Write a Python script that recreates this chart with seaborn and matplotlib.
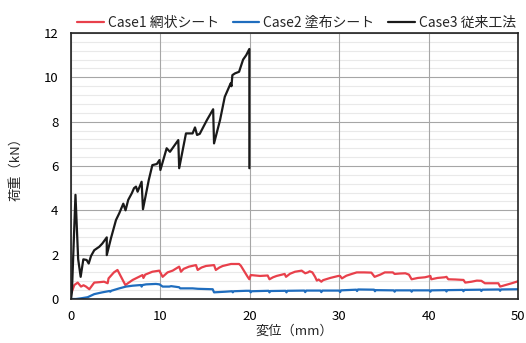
import numpy as np
import pandas as pd
import matplotlib
matplotlib.use("Agg")
import matplotlib.pyplot as plt
from matplotlib.ticker import MultipleLocator
import seaborn as sns

# ---- data ----
case_names = ["Case1 網状シート", "Case2 塗布シート", "Case3 従来工法"]

case1_x = [0, 0.1, 0.37, 0.75, 1.12, 1.4, 1.68, 2.05, 2.6, 3.2, 3.7, 4.1, 4.2, 4.8, 5.2,
           6.08, 6.9, 7.6, 8.0, 8.1, 8.3, 9.1, 9.88, 10.25, 10.8, 11.37, 12.1, 12.3, 12.6,
           13.2, 13.98, 14.17, 14.6, 15.1, 16.0, 16.2, 16.6, 16.97, 17.9, 18.8, 19.0, 19.76,
           19.95, 20.1, 21.14, 22.0, 22.2, 22.6, 23.0, 23.9, 24.05, 24.5, 25.06, 25.8, 26.2,
           26.5, 26.7, 27.0, 27.3, 27.5, 27.7, 28.0, 28.2, 29.0, 29.9, 30.1, 30.3, 30.8, 31.4,
           31.96, 32.8, 33.6, 33.96, 34.6, 35.1, 36.0, 36.2, 36.8, 37.4, 37.8, 38.1, 38.8,
           39.6, 40.2, 40.3, 41.0, 41.8, 42.0, 42.2, 43.0, 43.9, 44.1, 44.8, 45.4, 45.9,
           46.3, 47.8, 48.0, 48.6, 49.3, 50.0]
case1_y = [0.3, 0.33, 0.63, 0.74, 0.56, 0.62, 0.56, 0.44, 0.74, 0.76, 0.78, 0.71, 0.93, 1.2, 1.31,
           0.63, 0.86, 1.0, 1.08, 0.95, 1.1, 1.23, 1.28, 1.0, 1.2, 1.28, 1.46, 1.23, 1.36,
           1.46, 1.53, 1.31, 1.42, 1.49, 1.53, 1.31, 1.42, 1.49, 1.58, 1.58, 1.5, 1.0,
           0.89, 1.08, 1.04, 1.06, 0.89, 0.98, 1.04, 1.13, 1.0, 1.14, 1.23, 1.28, 1.16,
           1.2, 1.25, 1.2, 1.0, 0.83, 0.88, 0.78, 0.85, 0.95, 1.04, 1.04, 0.93, 1.05, 1.13,
           1.2, 1.2, 1.19, 1.0, 1.1, 1.2, 1.2, 1.13, 1.15, 1.16, 1.1, 0.89, 0.95,
           0.98, 1.04, 0.89, 0.95, 0.98, 1.0, 0.89, 0.88, 0.86, 0.74, 0.78, 0.83, 0.82,
           0.71, 0.71, 0.56, 0.63, 0.71, 0.8]

case2_x = [0, 0.56, 1.1, 1.86, 2.6, 3.5, 4.3, 4.4, 4.5, 5.4, 6.15, 6.9, 7.8, 7.9, 8.0, 8.4,
           9.5, 9.9, 10.25, 11.0, 11.2, 12.1, 12.2, 13.6, 14.2, 15.85, 16.0, 17.3, 18.0, 18.1,
           18.2, 19.6, 20.0, 20.1, 20.2, 22.1, 22.2, 22.3, 24.0, 24.1, 24.2, 26.1, 26.2, 26.3,
           27.9, 28.0, 28.1, 30.0, 30.1, 30.2, 31.9, 32.0, 32.1, 33.9, 34.0, 34.1, 36.1, 36.2,
           36.3, 38.0, 38.1, 38.2, 40.1, 40.2, 40.3, 41.9, 42.0, 42.1, 43.8, 43.9, 44.0, 45.8,
           45.9, 46.0, 47.9, 48.0, 48.1, 50.0]
case2_y = [0.0, 0.0, 0.03, 0.08, 0.22, 0.3, 0.36, 0.33, 0.37, 0.48, 0.56, 0.6, 0.63, 0.56, 0.63, 0.66,
           0.68, 0.66, 0.56, 0.56, 0.58, 0.53, 0.48, 0.48, 0.46, 0.44, 0.3, 0.33, 0.35, 0.3,
           0.35, 0.37, 0.37, 0.3, 0.35, 0.37, 0.3, 0.36, 0.37, 0.3, 0.37, 0.38, 0.31, 0.38,
           0.38, 0.31, 0.38, 0.38, 0.31, 0.39, 0.42, 0.36, 0.43, 0.42, 0.35, 0.4, 0.39, 0.33,
           0.39, 0.39, 0.33, 0.39, 0.39, 0.33, 0.39, 0.4, 0.34, 0.4, 0.41, 0.35, 0.41, 0.42,
           0.36, 0.42, 0.43, 0.37, 0.43, 0.44]

case3_x = [0, 0.1, 0.5, 0.8, 1.08, 1.38, 1.75, 1.98, 2.24, 2.6, 3.17, 3.5, 4.0, 4.0, 4.47,
           5.03, 5.4, 5.85, 6.1, 6.4, 6.8, 7.05, 7.27, 7.45, 7.9, 8.05, 8.7, 9.1, 9.6, 9.9,
           10.0, 10.7, 11.07, 12.0, 12.1, 12.86, 13.6, 13.87, 14.1, 14.4, 15.2, 15.9, 16.0,
           16.67, 17.2, 17.86, 17.95, 18.05, 18.35, 18.8, 19.25, 19.6, 19.95, 19.95]
case3_y = [0.0, 0.3, 4.7, 1.8, 1.0, 1.79, 1.76, 1.6, 1.94, 2.2, 2.36, 2.5, 2.78, 1.98, 2.74,
           3.56, 3.87, 4.3, 4.0, 4.47, 4.77, 5.0, 5.07, 4.84, 5.29, 4.05, 5.37, 6.04, 6.09, 6.27,
           5.82, 6.8, 6.64, 7.17, 5.9, 7.47, 7.47, 7.74, 7.4, 7.45, 8.07, 8.56, 7.02,
           8.07, 9.12, 9.73, 9.6, 10.1, 10.18, 10.25, 10.8, 11.0, 11.28, 5.9]

palette = ["#E8404B", "#1F6DBE", "#1A1A1A"]

# ---- build table ----
frames = []
for name, xs, ys in zip(case_names, [case1_x, case2_x, case3_x], [case1_y, case2_y, case3_y]):
    frames.append(pd.DataFrame({"disp": xs, "load": ys, "case": name,
                                "order": np.arange(len(xs))}))
df = pd.concat(frames, ignore_index=True)

sns.set_style("white")
plt.rcParams["font.family"] = ["Noto Sans CJK JP", "DejaVu Sans"]

fig = plt.figure(figsize=(5.26, 3.43), dpi=100)
ax = fig.add_axes([71 / 526, 44 / 343, 447 / 526, 266 / 343])

sns.lineplot(data=df, x="disp", y="load", hue="case", hue_order=case_names,
             palette=palette, sort=False, estimator=None, linewidth=1.6, ax=ax, zorder=3)

ax.set_xlim(0, 50)
ax.set_ylim(0, 12)
ax.xaxis.set_major_locator(MultipleLocator(10))
ax.yaxis.set_major_locator(MultipleLocator(2))
ax.yaxis.set_minor_locator(MultipleLocator(0.4))
ax.set_axisbelow(True)
ax.yaxis.set_zorder(0.5)
ax.xaxis.set_zorder(0.6)
ax.grid(which="major", axis="both", color="#a6a6a6", linewidth=0.8, linestyle="-")
ax.grid(which="minor", axis="y", color="#e9e9e9", linewidth=0.8, linestyle="-")
ax.tick_params(axis="both", which="both", length=0, labelsize=9.5, colors="black")
ax.tick_params(axis="y", pad=9)
ax.tick_params(axis="x", pad=8)
for s in ax.spines.values():
    s.set_color("#222222")
    s.set_linewidth(1.2)
    s.set_zorder(4)

ax.set_xlabel("変位（mm）", fontsize=9.5)
ax.set_ylabel("荷重（kN）", fontsize=9.5)
ax.xaxis.set_label_coords(0.5, -0.095)
ax.yaxis.set_label_coords(-0.11, 0.5)

handles, labels = ax.get_legend_handles_labels()
ax.legend(handles, labels, loc="center", bbox_to_anchor=(0.564, 0.934),
          bbox_transform=fig.transFigure, ncol=3, frameon=False, fontsize=10,
          handlelength=1.9, handletextpad=0.3, columnspacing=1.0, borderpad=0)

fig.savefig("out.png", dpi=100)
